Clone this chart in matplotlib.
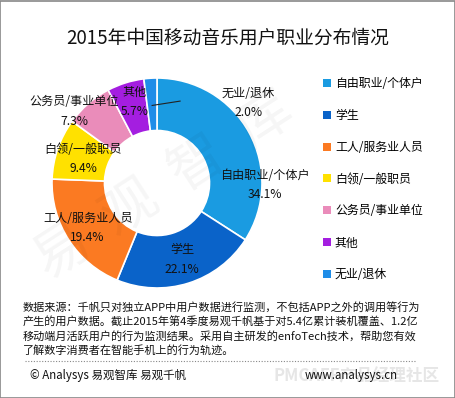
import matplotlib
matplotlib.use("Agg")
import matplotlib.pyplot as plt
import numpy as np
from matplotlib.lines import Line2D
from matplotlib.patches import Rectangle

plt.rcParams['font.family'] = ['Noto Sans CJK SC', 'DejaVu Sans']

title = "2015年中国移动音乐用户职业分布情况"
names = ["自由职业/个体户", "学生", "工人/服务业人员", "白领/一般职员",
         "公务员/事业单位", "其他", "无业/退休"]
shares = [34.1, 22.1, 19.4, 9.4, 7.3, 5.7, 2.0]
colors = ["#1a9be1", "#0a63c9", "#fb7a22", "#ffe100", "#ea8cba", "#a41ee0", "#1f8de8"]

# label block centres, in pie radius units (hand placed like the original)
label_pos = [(1.03, -0.02), (0.24, -0.73), (-0.66, -0.43), (-0.70, 0.23),
             (-0.79, 0.68), (-0.21, 0.77), (0.87, 0.76)]

note_lines = [
    "数据来源：千帆只对独立APP中用户数据进行监测，不包括APP之外的调用等行为",
    "产生的用户数据。截止2015年第4季度易观千帆基于对5.4亿累计装机覆盖、1.2亿",
    "移动端月活跃用户的行为监测结果。采用自主研发的enfoTech技术，帮助您有效",
    "了解数字消费者在智能手机上的行为轨迹。",
]

W, H = 456, 398
fig = plt.figure(figsize=(W / 100, H / 100), dpi=100)
fig.patch.set_facecolor("white")

# pie centre (157,183) px, radius 105 px
cx, cy, r = 157, 183, 105
ax = fig.add_axes([(cx - r) / W, 1 - (cy + r) / H, 2 * r / W, 2 * r / H])

wedges, _ = ax.pie(shares, colors=colors, startangle=90, counterclock=False,
                   radius=1, wedgeprops=dict(width=0.5, edgecolor="white", linewidth=1.2))
ax.set_xlim(-1, 1)
ax.set_ylim(-1, 1)
ax.axis("off")

for (x, y), n, v in zip(label_pos, names, shares):
    ax.text(x, y, f"{n}\n{v:.1f}%", ha="center", va="center", fontsize=8.7,
            linespacing=1.65, color="#111111")

# leader line for the small slice
w = wedges[-1]
mid = np.deg2rad((w.theta1 + w.theta2) / 2)
ax.plot([0.74 * np.cos(mid), 0.22], [0.74 * np.sin(mid), 0.78], color="#222222", lw=0.8)

# watermark
fig.text(0.36, 0.53, "易  观  智  库", fontsize=40, color="#000000", alpha=0.04,
         rotation=33, ha="center", va="center")

fig.text(228 / W, 1 - 38 / H, title, ha="center", va="center", fontsize=13.5, color="#111111")

leg = fig.legend(wedges, names, loc="upper left", bbox_to_anchor=(323 / W, 1 - 77 / H),
                 frameon=False, fontsize=8.6, handlelength=0.65, handleheight=0.65,
                 handletextpad=0.35, labelspacing=1.58, borderpad=0, borderaxespad=0)
for h in leg.legend_handles:
    h.set_edgecolor("none")

for i, line in enumerate(note_lines):
    fig.text(23 / W, 1 - (307 + i * 14.6) / H, line, fontsize=8.0, ha="left", va="center",
             color="#111111")

fig.add_artist(Line2D([25 / W, 415 / W], [1 - 361 / H] * 2, color="#888888",
                      lw=0.8, ls=(0, (1, 1.5))))

fig.text(0.60, 1 - 376 / H, "PMCAFF产品经理社区", fontsize=12, color="#e6e6e6",
         ha="left", va="center", fontweight="bold", zorder=0)
fig.text(30 / W, 1 - 376 / H, "© Analysys 易观智库 易观千帆", fontsize=8.3,
         ha="left", va="center", color="#111111")
fig.text(398 / W, 1 - 376 / H, "www.analysys.cn", fontsize=8.3,
         ha="right", va="center", color="#111111")

fig.add_artist(Rectangle((0.001, 0.001), 0.997, 0.997, transform=fig.transFigure,
                         fill=False, edgecolor="#888888", lw=1.2))

fig.savefig("out.png", dpi=100)
